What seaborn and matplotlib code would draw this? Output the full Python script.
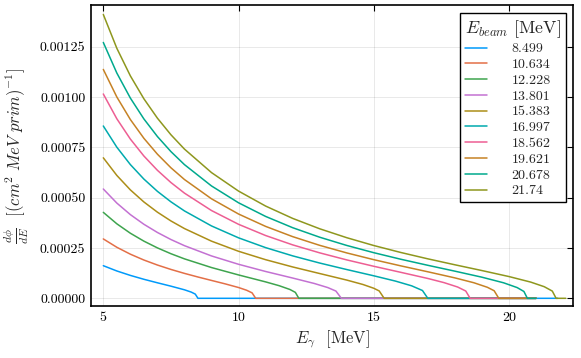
import numpy as np
import pandas as pd
import matplotlib
matplotlib.use("Agg")
import matplotlib.pyplot as plt
from matplotlib.ticker import StrMethodFormatter
import seaborn as sns

# ---- data ----
beam_labels = ["8.499", "10.634", "12.228", "13.801", "15.383",
               "16.997", "18.562", "19.621", "20.678", "21.74"]
line_colors = ["#009AFA", "#E36F47", "#3EA44E", "#C371D2", "#AC8E18",
               "#00AAAE", "#ED5E93", "#C68225", "#00A98D", "#8E971E"]

x1 = [5, 5.5, 6, 6.5, 7, 7.5, 8, 8.25, 8.4, 8.499, 21.8]
y1 = [0.000162, 0.0001358, 0.0001138, 0.0000945, 0.0000771, 0.0000603,
      0.0000423, 0.0000309, 0.0000209, 0, 0]

x2 = [5, 5.5, 6, 6.5, 7, 7.5, 8, 8.5, 9, 9.5, 10, 10.3, 10.5, 10.634, 21.0]
y2 = [0.000295, 0.0002535, 0.0002192, 0.0001902, 0.0001653, 0.0001434,
      0.0001238, 0.0001058, 0.0000888, 0.0000719, 0.0000536, 0.0000400,
      0.0000271, 0, 0]

x3 = [5, 5.5, 6, 6.5, 7, 7.5, 8, 9, 10, 11, 11.5, 11.9, 12.1, 12.228, 21.0]
y3 = [0.000427, 0.0003701, 0.0003233, 0.0002840, 0.0002505, 0.0002215,
      0.0001960, 0.0001528, 0.0001161, 0.0000816, 0.0000627, 0.0000438,
      0.0000295, 0, 0]

x4 = [5, 5.5, 6, 6.5, 7, 7.5, 8, 9, 10, 11, 12, 12.8, 13.3, 13.6, 13.801, 21.0]
y4 = [0.000543, 0.0004731, 0.0004158, 0.0003678, 0.0003271, 0.0002920,
      0.0002615, 0.0002105, 0.0001690, 0.0001333, 0.0001007, 0.0000737,
      0.0000533, 0.0000360, 0, 0]

x5 = [5, 5.5, 6, 6.5, 7, 7.5, 8, 9, 10, 11, 12, 13, 14, 14.6, 15, 15.2,
      15.383, 21.0]
y5 = [0.000698, 0.0006104, 0.0005386, 0.0004786, 0.0004279, 0.0003843,
      0.0003465, 0.0002839, 0.0002336, 0.0001919, 0.0001558, 0.0001231,
      0.0000906, 0.0000686, 0.0000499, 0.0000366, 0, 0]

x6 = [5, 5.5, 6, 6.5, 7, 7.5, 8, 9, 10, 11, 12, 13, 14, 15, 15.8, 16.4,
      16.8, 16.997, 21.0]
y6 = [0.000856, 0.0007506, 0.0006643, 0.0005923, 0.0005314, 0.0004793,
      0.0004341, 0.0003595, 0.0003004, 0.0002518, 0.0002109, 0.0001752,
      0.0001429, 0.0001118, 0.0000856, 0.0000620, 0.0000387, 0, 0]

x7 = [5, 5.5, 6, 6.5, 7, 7.5, 8, 9, 10, 11, 12, 13, 14, 15, 16, 17, 17.6,
      18.1, 18.4, 18.562, 21.0]
y7 = [0.001015, 0.0008918, 0.0007910, 0.0007069, 0.0006359, 0.0005751,
      0.0005225, 0.0004360, 0.0003676, 0.0003119, 0.0002655, 0.0002258,
      0.0001908, 0.0001591, 0.0001290, 0.0000985, 0.0000778, 0.0000561,
      0.0000362, 0, 0]

x8 = [5, 5.5, 6, 6.5, 7, 7.5, 8, 9, 10, 11, 12, 13, 14, 15, 16, 17, 18,
      18.7, 19.2, 19.45, 19.621, 21.0]
y8 = [0.001137, 0.001000, 0.0008881, 0.0007948, 0.0007160, 0.0006484,
      0.0005901, 0.0004943, 0.0004187, 0.0003573, 0.0003064, 0.0002631,
      0.0002255, 0.0001919, 0.0001611, 0.0001317, 0.0001014, 0.0000773,
      0.0000547, 0.0000376, 0, 0]

x9 = [5, 5.5, 6, 6.5, 7, 7.5, 8, 9, 10, 11, 12, 13, 14, 15, 16, 17, 18, 19,
      19.8, 20.3, 20.55, 20.678, 21.0]
y9 = [0.001271, 0.001119, 0.0009947, 0.0008911, 0.0008037, 0.0007288,
      0.0006641, 0.0005581, 0.0004745, 0.0004068, 0.0003508, 0.0003035,
      0.0002626, 0.0002266, 0.0001940, 0.0001639, 0.0001348, 0.0001048,
      0.0000770, 0.0000533, 0.0000340, 0, 0]

x10 = [5, 5.5, 6, 6.5, 7, 7.5, 8, 9, 10, 11, 12, 13, 14, 15, 16, 17, 18, 19,
       20, 20.8, 21.3, 21.6, 21.74, 22.1]
y10 = [0.00141, 0.001242, 0.001105, 0.0009912, 0.0008949, 0.0008124,
       0.0007412, 0.0006245, 0.0005326, 0.0004583, 0.0003970, 0.0003454,
       0.0003011, 0.0002622, 0.0002276, 0.0001960, 0.0001665, 0.0001378,
       0.0001080, 0.0000806, 0.0000578, 0.0000359, 0, 0]

x_ticks = [5, 10, 15, 20]
y_ticks = [0.0, 0.00025, 0.0005, 0.00075, 0.001, 0.00125]

# ---- build long-form table ----
xs = [x1, x2, x3, x4, x5, x6, x7, x8, x9, x10]
ys = [y1, y2, y3, y4, y5, y6, y7, y8, y9, y10]
frames = []
for lab, xx, yy in zip(beam_labels, xs, ys):
    frames.append(pd.DataFrame({"x": xx, "y": yy, "E": lab}))
df = pd.concat(frames, ignore_index=True)

# ---- style ----
sns.set_theme(style="white")
plt.rcParams["font.family"] = ["cmr10", "DejaVu Serif"]
plt.rcParams["mathtext.fontset"] = "cm"
plt.rcParams["axes.unicode_minus"] = False
plt.rcParams["axes.formatter.use_mathtext"] = True

fig = plt.figure(figsize=(5.81, 3.58), dpi=100)
ax = fig.add_axes([0.15663, 0.14525, 0.82960, 0.84078])

sns.lineplot(data=df, x="x", y="y", hue="E", hue_order=beam_labels,
             palette=dict(zip(beam_labels, line_colors)), sort=False,
             estimator=None, linewidth=1.1, ax=ax)

ax.set_xlim(4.545, 22.365)
ax.set_ylim(-0.0000382, 0.001457)
ax.set_xticks(x_ticks)
ax.set_yticks(y_ticks)
ax.yaxis.set_major_formatter(StrMethodFormatter("{x:.5f}"))
ax.xaxis.set_major_formatter(StrMethodFormatter("{x:.0f}"))
ax.grid(True, color="black", alpha=0.1, linewidth=0.6)
ax.set_axisbelow(True)
ax.tick_params(direction="in", length=4, width=0.8, top=True, right=True,
               labelsize=10, pad=4, colors="black")
for sp in ax.spines.values():
    sp.set_visible(True)
    sp.set_color("black")
    sp.set_linewidth(1.2)

ax.set_xlabel(r"$E_\gamma$  [MeV]", fontsize=12)
ax.set_ylabel(r"$\frac{d\phi}{dE}$  $[(cm^2\ MeV\ prim)^{-1}]$", fontsize=12)
ax.xaxis.set_label_coords(0.5, -0.075)
ax.yaxis.set_label_coords(-0.125, 0.5)

handles, labels = ax.get_legend_handles_labels()
for h in handles:
    h.set_linewidth(1.1)
leg = ax.legend(handles, labels, title=r"$E_{beam}$ [MeV]", loc="upper right",
                bbox_to_anchor=(0.9855, 0.9734), borderaxespad=0,
                frameon=True, fancybox=False, edgecolor="black", framealpha=1,
                fontsize=10, title_fontsize=12.8, handlelength=1.56,
                handletextpad=1.8, labelspacing=0.22, borderpad=0.35,
                alignment="left")
leg.get_frame().set_linewidth(1.0)

fig.savefig("out.png", dpi=100)
